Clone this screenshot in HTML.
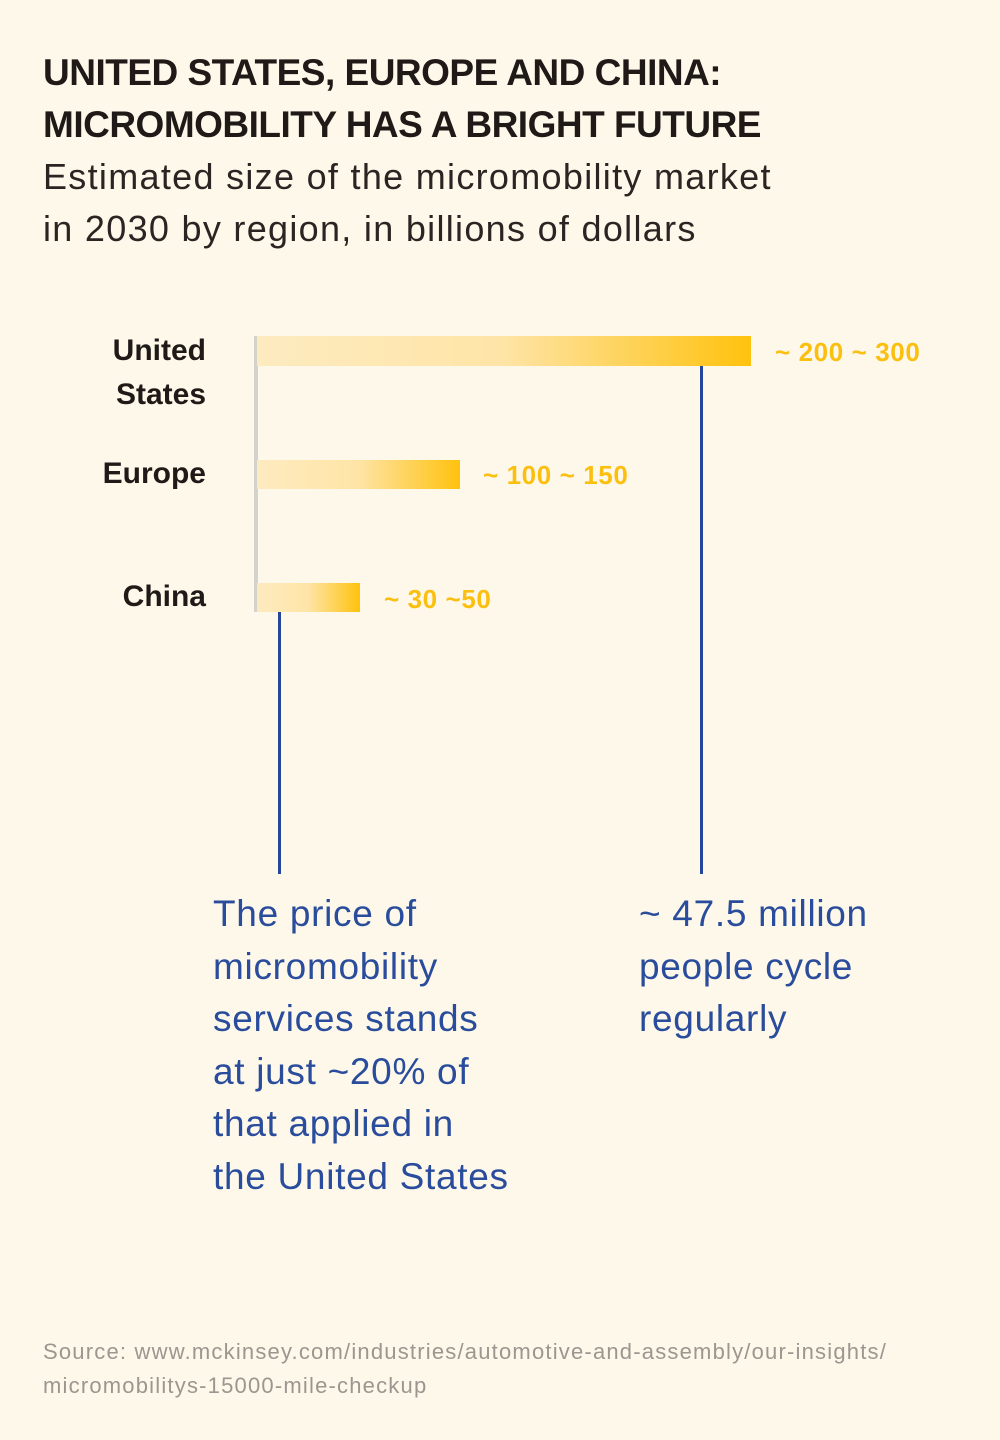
<!DOCTYPE html>
<html><head><meta charset="utf-8"><style>
body{margin:0;width:1000px;height:1440px;background:#fdf8e9;font-family:"Liberation Sans",sans-serif;position:relative;overflow:hidden}
.a{position:absolute;white-space:nowrap}
.t{left:43px;font-weight:bold;font-size:37px;color:#1f1a17;letter-spacing:-0.5px}
.s{left:43px;font-size:36px;color:#2a2523;letter-spacing:1.3px}
.lab{font-weight:bold;font-size:30px;color:#1f1a17;text-align:right;right:794px;line-height:44px}
.bar{position:absolute;left:257px;background:linear-gradient(to right,#fdebc0,#fee4a6 50%,#ffc20e)}
.v{font-weight:bold;font-size:26px;color:#fbbf10;letter-spacing:0.6px}
.blue{position:absolute;width:3px;background:#24479b}
.n{font-size:37px;color:#2a4c9c;line-height:52.5px;letter-spacing:0.7px}
.src{left:43px;font-size:22px;color:#9b9690;line-height:34px;letter-spacing:1.2px}
</style></head><body>
<div class="a t" style="top:52px">UNITED STATES, EUROPE AND CHINA:</div>
<div class="a t" style="top:104px">MICROMOBILITY HAS A BRIGHT FUTURE</div>
<div class="a s" style="top:156px">Estimated size of the micromobility market</div>
<div class="a s" style="top:208px">in 2030 by region, in billions of dollars</div>

<div class="a lab" style="top:329px">United<br>States</div>
<div class="a lab" style="top:452px">Europe</div>
<div class="a lab" style="top:575px">China</div>

<div style="position:absolute;left:254px;top:336px;width:4px;height:276px;background:#d4d2cd"></div>
<div class="bar" style="top:336px;width:494px;height:30px"></div>
<div class="bar" style="top:460px;width:203px;height:29px"></div>
<div class="bar" style="top:583px;width:103px;height:29px"></div>

<div class="a v" style="left:775px;top:337px">~ 200 ~ 300</div>
<div class="a v" style="left:483px;top:460px">~ 100 ~ 150</div>
<div class="a v" style="left:384px;top:584px">~ 30 ~50</div>

<div class="blue" style="left:700px;top:366px;height:508px"></div>
<div class="blue" style="left:278px;top:612px;height:262px"></div>

<div class="a n" style="left:213px;top:888px">The price of<br>micromobility<br>services stands<br>at just ~20% of<br>that applied in<br>the United States</div>
<div class="a n" style="left:639px;top:888px">~ 47.5 million<br>people cycle<br>regularly</div>

<div class="a src" style="top:1335px">Source: www.mckinsey.com/industries/automotive-and-assembly/our-insights/<br>micromobilitys-15000-mile-checkup</div>
</body></html>
